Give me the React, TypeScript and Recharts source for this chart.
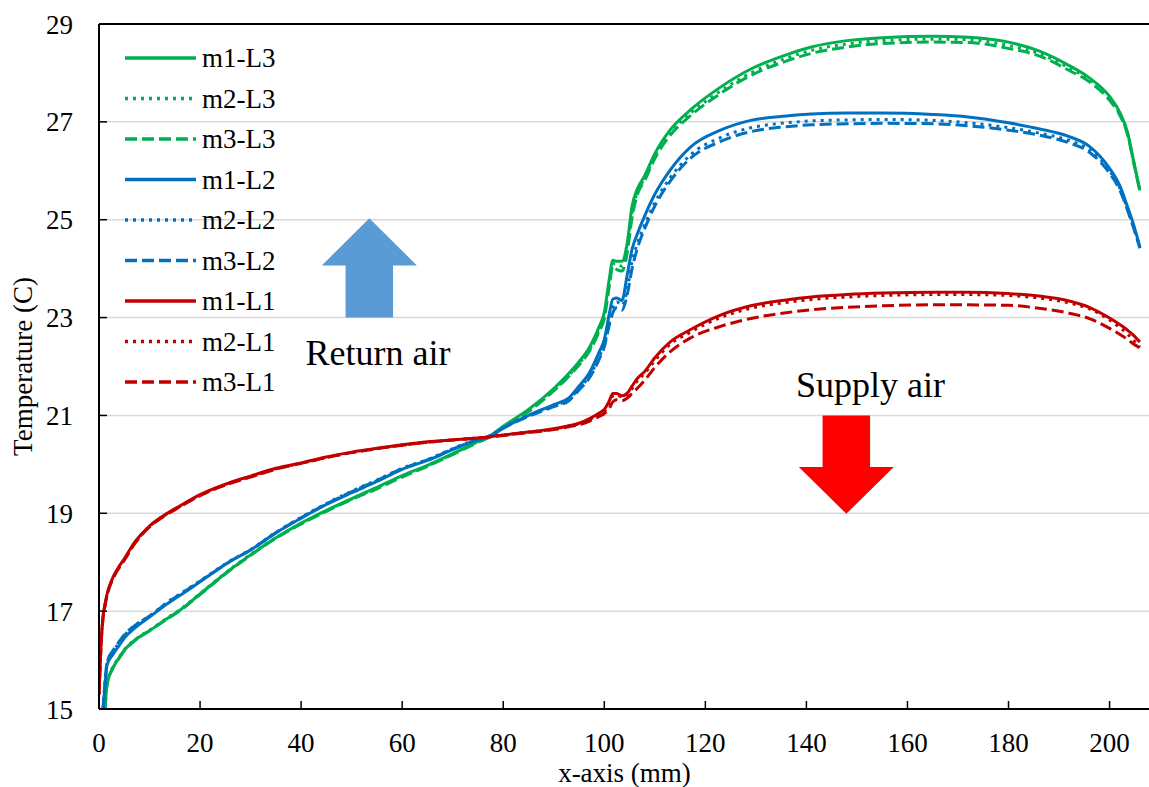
import React from 'react';
import {
  LineChart, Line, XAxis, YAxis, CartesianGrid, Legend, ReferenceArea, ReferenceDot, ReferenceLine,
} from 'recharts';

// ---------- data ----------
const xs = [0, 0.4, 0.8, 1.2, 1.6, 2.8, 4, 5, 7, 10, 13.5, 16, 20, 26, 30, 35, 40, 45, 50, 55, 60, 65, 70, 75, 77, 80, 85, 90, 93, 95, 97, 99, 100, 101, 101.7, 102.5, 103.5, 104.5, 105.5, 106.5, 108, 110, 113, 117, 123, 129, 136, 141, 148, 155, 165, 172, 180, 186, 192, 196, 200, 202, 203.6, 204.6, 206];

const m1L3 = [null, null, null, 15.0, 15.5,
  15.85, 16.05, 16.2, 16.4, 16.6,
  16.85, 17.02, 17.35, 17.85, 18.15,
  18.5, 18.8, 19.06, 19.3, 19.53,
  19.77, 19.98, 20.22, 20.47, 20.56,
  20.78, 21.12, 21.55, 21.86, 22.1,
  22.38, 22.82, 23.1, 23.8, 24.17,
  24.15, 24.15, 24.5, 25.28, 25.62,
  25.9, 26.35, 26.83, 27.24, 27.71,
  28.08, 28.37, 28.53, 28.66, 28.72,
  28.75, 28.73, 28.63, 28.45, 28.15,
  27.9, 27.52, 27.2, 26.77, 26.28,
  25.6];
const m2L3 = [null, null, null, 15.0, 15.52,
  15.87, 16.06, 16.21, 16.41, 16.61,
  16.86, 17.03, 17.36, 17.86, 18.16,
  18.5, 18.79, 19.05, 19.29, 19.52,
  19.76, 19.97, 20.21, 20.46, 20.55,
  20.77, 21.1, 21.52, 21.82, 22.06,
  22.33, 22.75, 23.02, 23.7, 24.1,
  24.1, 24.05, 24.4, 25.15, 25.55,
  25.85, 26.3, 26.77, 27.17, 27.63,
  28.0, 28.3, 28.46, 28.59, 28.66,
  28.69, 28.68, 28.56, 28.4, 28.1,
  27.86, 27.48, 27.17, 26.74, 26.26,
  25.6];
const m3L3 = [null, null, null, 15.0, 15.5,
  15.84, 16.04, 16.19, 16.39, 16.6,
  16.84, 17.01, 17.34, 17.84, 18.14,
  18.49, 18.78, 19.04, 19.28, 19.5,
  19.74, 19.96, 20.2, 20.45, 20.54,
  20.76, 21.08, 21.5, 21.8, 22.03,
  22.3, 22.72, 22.98, 23.65, 24.05,
  23.98, 23.95, 24.3, 25.05, 25.5,
  25.8, 26.25, 26.72, 27.12, 27.58,
  27.95, 28.24, 28.4, 28.53, 28.6,
  28.63, 28.62, 28.5, 28.35, 28.05,
  27.82, 27.44, 27.14, 26.72, 26.25,
  25.58];

const m1L2 = [null, null, 15.0, 15.5, 15.9,
  16.12, 16.3, 16.45, 16.65, 16.88,
  17.15, 17.32, 17.6, 18.02, 18.25,
  18.6, 18.9, 19.18, 19.42, 19.65,
  19.9, 20.08, 20.3, 20.5, 20.55,
  20.74, 21.0, 21.22, 21.36, 21.6,
  21.86, 22.3, 22.55, 23.08, 23.38,
  23.4, 23.35, 23.85, 24.4, 24.7,
  25.08, 25.52, 26.01, 26.48, 26.83,
  27.03, 27.12, 27.16, 27.18, 27.18,
  27.15, 27.1, 26.98, 26.86, 26.7,
  26.5, 26.05, 25.7, 25.25, 24.95,
  24.44];
const m2L2 = [null, null, 15.0, 15.55, 15.95,
  16.18, 16.36, 16.5, 16.7, 16.9,
  17.18, 17.35, 17.62, 18.03, 18.26,
  18.61, 18.92, 19.2, 19.45, 19.68,
  19.92, 20.1, 20.32, 20.52, 20.57,
  20.75, 21.0, 21.2, 21.33, 21.55,
  21.8, 22.2, 22.45, 22.9, 23.2,
  23.32, 23.25, 23.55, 24.15, 24.5,
  24.9, 25.35, 25.85, 26.32, 26.68,
  26.88, 26.98, 27.02, 27.04, 27.05,
  27.03, 26.98, 26.88, 26.77, 26.62,
  26.43, 26.0, 25.65, 25.2, 24.9,
  24.42];
const m3L2 = [null, null, 15.0, 15.55, 15.95,
  16.2, 16.38, 16.52, 16.7, 16.9,
  17.17, 17.34, 17.61, 18.02, 18.25,
  18.6, 18.91, 19.19, 19.44, 19.67,
  19.91, 20.09, 20.31, 20.51, 20.56,
  20.74, 20.98, 21.18, 21.3, 21.52,
  21.76, 22.15, 22.4, 22.85, 23.1,
  23.2, 23.15, 23.45, 24.0, 24.4,
  24.82, 25.28, 25.78, 26.25, 26.6,
  26.8, 26.9, 26.94, 26.96, 26.97,
  26.96, 26.92, 26.83, 26.73, 26.57,
  26.38, 25.95, 25.61, 25.18, 24.88,
  24.42];

const m1L1 = [15.3, 16.33, 16.9, 17.15, 17.35,
  17.7, 17.92, 18.07, 18.4, 18.74,
  19.0, 19.15, 19.38, 19.63, 19.76,
  19.92, 20.03, 20.15, 20.25, 20.33,
  20.4, 20.46, 20.5, 20.54, 20.56,
  20.6, 20.66, 20.73, 20.79, 20.84,
  20.93, 21.05, 21.12, 21.3, 21.45,
  21.45, 21.4, 21.45, 21.6, 21.75,
  21.9, 22.18, 22.5, 22.75, 23.05,
  23.24, 23.36, 23.42, 23.47, 23.5,
  23.52, 23.52, 23.49, 23.44, 23.34,
  23.21, 22.99, 22.86, 22.74, 22.65,
  22.5];
const m2L1 = [15.3, 16.3, 16.88, 17.13, 17.34,
  17.68, 17.9, 18.05, 18.38, 18.73,
  18.99, 19.14, 19.37, 19.62, 19.75,
  19.91, 20.02, 20.14, 20.24, 20.32,
  20.39, 20.45, 20.5, 20.54, 20.56,
  20.6, 20.66, 20.72, 20.78, 20.83,
  20.91, 21.02, 21.08, 21.25, 21.4,
  21.42, 21.38, 21.42, 21.55, 21.7,
  21.86, 22.12, 22.45, 22.7, 23.0,
  23.19, 23.31, 23.37, 23.42, 23.45,
  23.47, 23.47, 23.45, 23.4, 23.3,
  23.18, 22.95, 22.8, 22.66, 22.55,
  22.4];
const m3L1 = [15.3, 16.28, 16.86, 17.11, 17.32,
  17.67, 17.89, 18.04, 18.37, 18.72,
  18.98, 19.13, 19.36, 19.61, 19.74,
  19.9, 20.02, 20.14, 20.24, 20.32,
  20.39, 20.45, 20.5, 20.54, 20.56,
  20.59, 20.65, 20.71, 20.77, 20.81,
  20.88, 20.98, 21.04, 21.15, 21.28,
  21.32, 21.3, 21.35, 21.45, 21.55,
  21.72, 21.98, 22.3, 22.58, 22.82,
  22.98, 23.1, 23.16, 23.21, 23.24,
  23.26, 23.26, 23.25, 23.19, 23.09,
  22.98, 22.78, 22.66, 22.55, 22.47,
  22.38];

const seriesNames = ['m1-L3', 'm2-L3', 'm3-L3', 'm1-L2', 'm2-L2', 'm3-L2', 'm1-L1', 'm2-L1', 'm3-L1'];
const seriesValues = [m1L3, m2L3, m3L3, m1L2, m2L2, m3L2, m1L1, m2L1, m3L1];

const xTicks = [0, 20, 40, 60, 80, 100, 120, 140, 160, 180, 200];
const yTicks = [15, 17, 19, 21, 23, 25, 27, 29];

const annotationTexts = ['Return air', 'Supply air'];

// ---------- styles ----------
const GREEN = '#00B050';
const BLUE = '#0070C0';
const RED = '#C00000';
const seriesColors = [GREEN, GREEN, GREEN, BLUE, BLUE, BLUE, RED, RED, RED];
const DOTTED = '3 5';
const DASHED = '12 5';
const seriesDash = [undefined, DOTTED, DASHED, undefined, DOTTED, DASHED, undefined, DOTTED, DASHED];
const FONT = '"Liberation Serif", "Times New Roman", serif';

const rows = xs.map((x, i) => {
  const r: Record<string, number | null> = { x };
  seriesNames.forEach((n, s) => { r[n] = seriesValues[s][i]; });
  return r;
});

const renderLegend = () => (
  <svg width={300} height={410} style={{ display: 'block' }}>
    {seriesNames.map((n, i) => {
      const cy = 58 + i * 40.5;
      return (
        <g key={n}>
          <line x1={125} x2={196} y1={cy} y2={cy} stroke={seriesColors[i]} strokeWidth={3.3}
            strokeDasharray={seriesDash[i]} />
          <text x={202} y={cy + 9} fontFamily={FONT} fontSize={27} fill="#000">{n}</text>
        </g>
      );
    })}
  </svg>
);

const arrowShape = (color: string, up: boolean) => (props: any) => {
  const { x, y, width, height } = props;
  const headH = height * 0.475;
  const shaftW = width * 0.5;
  const cx = x + width / 2;
  let pts: number[][];
  if (up) {
    const hb = y + headH;
    pts = [[cx, y], [x + width, hb], [cx + shaftW / 2, hb], [cx + shaftW / 2, y + height],
      [cx - shaftW / 2, y + height], [cx - shaftW / 2, hb], [x, hb]];
  } else {
    const hb = y + height - headH;
    pts = [[cx, y + height], [x + width, hb], [cx + shaftW / 2, hb], [cx + shaftW / 2, y],
      [cx - shaftW / 2, y], [cx - shaftW / 2, hb], [x, hb]];
  }
  return <polygon points={pts.map((p) => p.join(',')).join(' ')} fill={color} />;
};

export default function App() {
  return (
    <div style={{ position: 'absolute', left: 0, top: 0, width: 1149, height: 787, overflow: 'hidden', background: '#fff' }}>
      <LineChart width={1152} height={787} data={rows} margin={{ top: 24, right: 2, bottom: 0, left: 0 }}
        style={{ fontFamily: FONT }}>
        <CartesianGrid vertical={false} stroke="#D9D9D9" strokeWidth={1.5} />
        <XAxis dataKey="x" type="number" domain={[0, 208]} ticks={xTicks} allowDataOverflow
          height={78} tickSize={-8} tickMargin={31.8}
          axisLine={{ stroke: '#000', strokeWidth: 2 }} tickLine={{ stroke: '#000', strokeWidth: 1.5 }}
          tick={{ fill: '#000', fontSize: 27, fontFamily: FONT }}
          label={{ value: 'x-axis (mm)', position: 'insideBottom', offset: 5, fill: '#000', fontSize: 27, fontFamily: FONT }} />
        <YAxis type="number" domain={[15, 29]} ticks={yTicks} allowDataOverflow width={99}
          tickSize={-8} tickMargin={34}
          axisLine={{ stroke: '#000', strokeWidth: 2 }} tickLine={{ stroke: '#000', strokeWidth: 1.5 }}
          tick={{ fill: '#000', fontSize: 27, fontFamily: FONT }}
          label={{ value: 'Temperature (C)', angle: -90, position: 'insideLeft', offset: 22, fill: '#000', fontSize: 27, fontFamily: FONT, style: { textAnchor: 'middle' } }} />
        <ReferenceLine y={29} stroke="#000" strokeWidth={2} />
        <ReferenceArea x1={44.1} x2={62.9} y1={23.0} y2={25.03} shape={arrowShape('#5B9BD5', true)} />
        <ReferenceArea x1={138.5} x2={157.3} y1={18.99} y2={21.0} shape={arrowShape('#FF0000', false)} />
        <ReferenceDot x={55.2} y={22.29} r={0} stroke="none" fill="none"
          label={{ value: annotationTexts[0], position: 'center', fill: '#000', fontSize: 36, fontFamily: FONT }} />
        <ReferenceDot x={152.7} y={21.64} r={0} stroke="none" fill="none"
          label={{ value: annotationTexts[1], position: 'center', fill: '#000', fontSize: 36, fontFamily: FONT }} />
        {seriesNames.map((n, i) => (
          <Line key={n} dataKey={n} name={n} type="monotone" stroke={seriesColors[i]} strokeWidth={3}
            strokeDasharray={seriesDash[i]} dot={false} activeDot={false} isAnimationActive={false} />
        ))}
        <Legend content={renderLegend} layout="horizontal" verticalAlign="middle" align="center"
          wrapperStyle={{ position: 'absolute', left: 0, top: 0, width: 300, height: 410 }} />
      </LineChart>
    </div>
  );
}
